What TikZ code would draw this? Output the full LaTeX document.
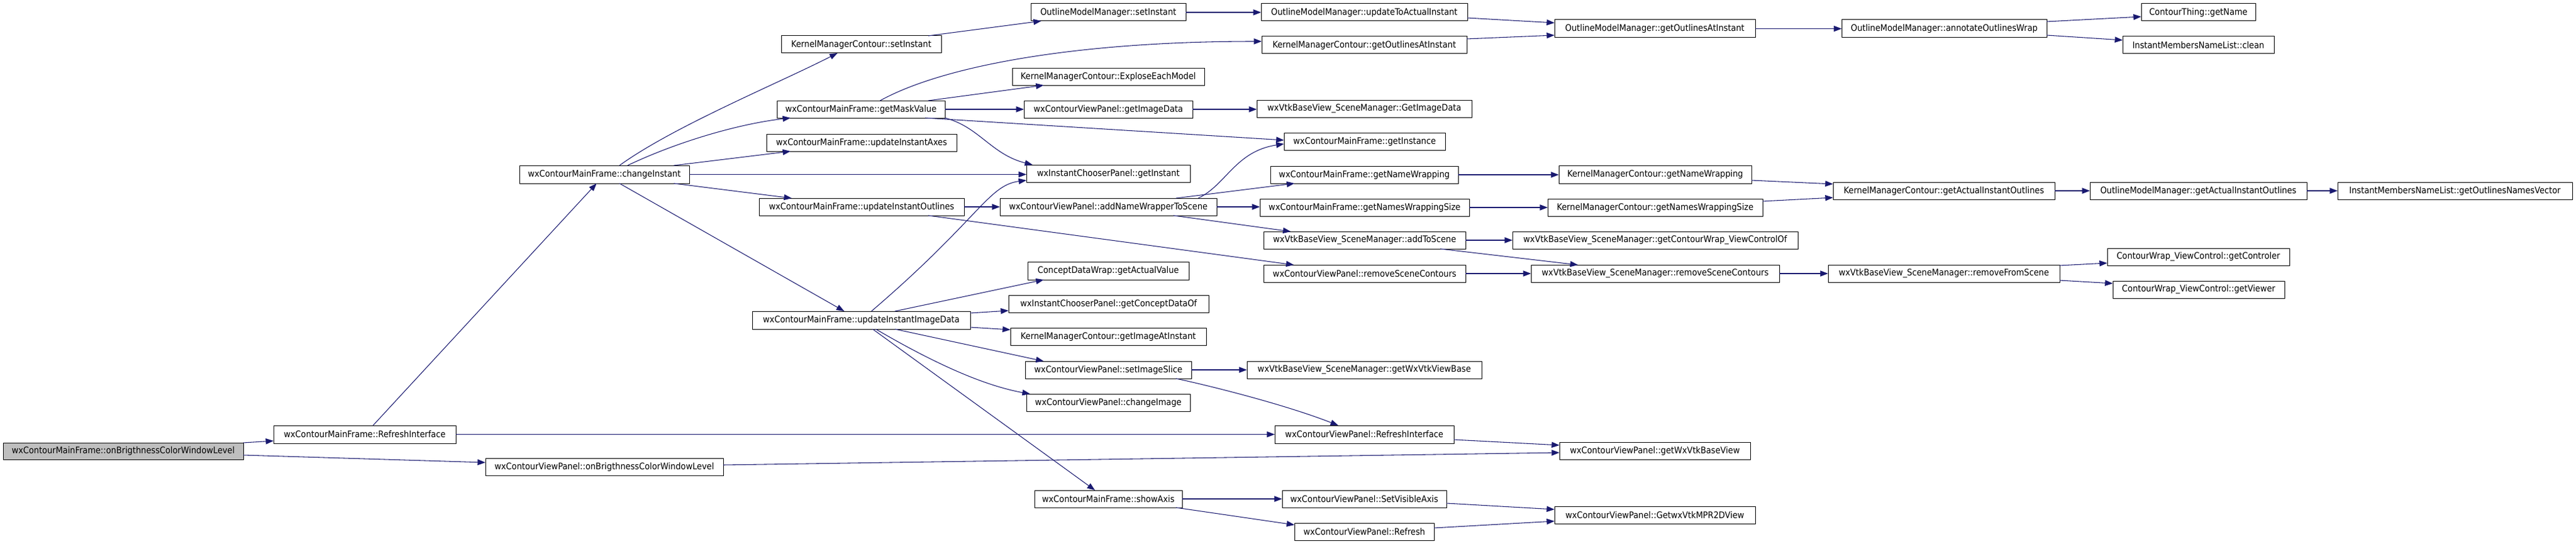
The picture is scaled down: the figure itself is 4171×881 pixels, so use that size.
\documentclass[tikz,border=0pt]{standalone}
\usepackage{fontspec}
\setmainfont{DejaVu Sans}[FakeStretch=0.9]
\usetikzlibrary{arrows.meta}
\definecolor{edgec}{HTML}{191970}
\definecolor{rootfill}{HTML}{BFBFBF}
\tikzset{
 box/.style={draw=black, line width=0.75pt, fill=white, inner sep=0pt, outer sep=0pt, rectangle, font=\fontsize{11}{13}\selectfont},
 link/.style={draw=edgec, line width=0.8pt, -{Triangle[length=9.5pt,width=7pt]}},
}
\newcommand\bx[7][]{\node[box,#1,minimum width={(#4-#3)*0.75pt},minimum height={(#6-#5)*0.75pt}] (#2) at ({(#3+#4)/2},{(#5+#6)/2}) {#7};}
\begin{document}
\begin{tikzpicture}[x=0.75pt,y=-0.75pt]
\useasboundingbox[fill=white] (0,0) rectangle (4171,881);
\bx[fill=rootfill]{root}{5}{394}{717}{744}{wxContourMainFrame::onBrigthnessColorWindowLevel}
\bx{mfri}{443}{738}{689}{718}{wxContourMainFrame::RefreshInterface}
\bx{vponb}{786}{1171}{742}{770}{wxContourViewPanel::onBrigthnessColorWindowLevel}
\bx{chg}{841}{1116}{268}{297}{wxContourMainFrame::changeInstant}
\bx{kmcset}{1265}{1524}{58}{86}{KernelManagerContour::setInstant}
\bx{mask}{1258}{1530}{163}{191}{wxContourMainFrame::getMaskValue}
\bx{axes}{1241}{1549}{217}{245}{wxContourMainFrame::updateInstantAxes}
\bx{outl}{1229}{1561}{321}{349}{wxContourMainFrame::updateInstantOutlines}
\bx{imgd}{1218}{1571}{504}{533}{wxContourMainFrame::updateInstantImageData}
\bx{ommset}{1669}{1920}{6}{34}{OutlineModelManager::setInstant}
\bx{explose}{1639}{1950}{110}{138}{KernelManagerContour::ExploseEachModel}
\bx{vpimg}{1658}{1931}{163}{191}{wxContourViewPanel::getImageData}
\bx{getinst}{1662}{1927}{267}{295}{wxInstantChooserPanel::getInstant}
\bx{addnw}{1619}{1970}{321}{349}{wxContourViewPanel::addNameWrapperToScene}
\bx{cdw}{1664}{1925}{424}{453}{ConceptDataWrap::getActualValue}
\bx{cdo}{1633}{1957}{478}{506}{wxInstantChooserPanel::getConceptDataOf}
\bx{kmcimg}{1636}{1953}{531}{559}{KernelManagerContour::getImageAtInstant}
\bx{slice}{1660}{1929}{585}{613}{wxContourViewPanel::setImageSlice}
\bx{chimg}{1662}{1927}{638}{666}{wxContourViewPanel::changeImage}
\bx{axis}{1675}{1914}{794}{822}{wxContourMainFrame::showAxis}
\bx{upd}{2042}{2376}{6}{34}{OutlineModelManager::updateToActualInstant}
\bx{kmcout}{2043}{2375}{59}{87}{KernelManagerContour::getOutlinesAtInstant}
\bx{smimg}{2035}{2383}{162}{190}{wxVtkBaseView\_SceneManager::GetImageData}
\bx{getinstc}{2079}{2340}{215}{243}{wxContourMainFrame::getInstance}
\bx{mfnw}{2057}{2361}{269}{297}{wxContourMainFrame::getNameWrapping}
\bx{mfnws}{2040}{2379}{322}{350}{wxContourMainFrame::getNamesWrappingSize}
\bx{addsc}{2046}{2373}{375}{403}{wxVtkBaseView\_SceneManager::addToScene}
\bx{vprsc}{2046}{2373}{429}{457}{wxContourViewPanel::removeSceneContours}
\bx{vtkvb}{2019}{2399}{585}{613}{wxVtkBaseView\_SceneManager::getWxVtkViewBase}
\bx{vpri}{2064}{2354}{689}{718}{wxContourViewPanel::RefreshInterface}
\bx{vis}{2076}{2342}{794}{822}{wxContourViewPanel::SetVisibleAxis}
\bx{refr}{2096}{2322}{847}{875}{wxContourViewPanel::Refresh}
\bx{ommout}{2517}{2842}{32}{61}{OutlineModelManager::getOutlinesAtInstant}
\bx{kmcnw}{2524}{2836}{268}{297}{KernelManagerContour::getNameWrapping}
\bx{kmcnws}{2506}{2854}{322}{350}{KernelManagerContour::getNamesWrappingSize}
\bx{cwvc}{2449}{2911}{375}{403}{wxVtkBaseView\_SceneManager::getContourWrap\_ViewControlOf}
\bx{smrsc}{2479}{2881}{429}{457}{wxVtkBaseView\_SceneManager::removeSceneContours}
\bx{vbv}{2525}{2834}{716}{744}{wxContourViewPanel::getWxVtkBaseView}
\bx{mpr}{2517}{2842}{820}{848}{wxContourViewPanel::GetwxVtkMPR2DView}
\bx{annot}{2982}{3314}{32}{61}{OutlineModelManager::annotateOutlinesWrap}
\bx{kmcact}{2968}{3327}{295}{323}{KernelManagerContour::getActualInstantOutlines}
\bx{rfs}{2960}{3335}{429}{457}{wxVtkBaseView\_SceneManager::removeFromScene}
\bx{ctn}{3467}{3652}{6}{34}{ContourThing::getName}
\bx{clean}{3437}{3682}{59}{87}{InstantMembersNameList::clean}
\bx{ommact}{3384}{3735}{295}{323}{OutlineModelManager::getActualInstantOutlines}
\bx{onv}{3785}{4165}{295}{323}{InstantMembersNameList::getOutlinesNamesVector}
\bx{ctrl}{3412}{3707}{402}{430}{ContourWrap\_ViewControl::getControler}
\bx{view}{3421}{3699}{455}{483}{ContourWrap\_ViewControl::getViewer}

\draw[link] (root.north east) -- ([shift={(0,25)}]mfri.north west);
\draw[link] ([shift={(0,20)}]root.north east) -- ([shift={(0,7)}]vponb.north west);
\draw[link] ([shift={(161,0)}]mfri.north west) -- ([shift={(125,0)}]chg.south west);
\draw[link] (mfri.east) -- (mfri.east -| vpri.west);
\draw[link] ([shift={(0,11)}]vponb.north east) -- ([shift={(0,17)}]vbv.north west);
\draw[link] ([shift={(0,23)}]vpri.north east) -- ([shift={(0,5)}]vbv.north west);
\draw[link] ([shift={(162,0)}]chg.north west) .. controls (1090,205) and (1260,135) .. ([shift={(91,0)}]kmcset.south west);
\draw[link] ([shift={(175,0)}]chg.north west) .. controls (1100,228) and (1200,200) .. ([shift={(22,0)}]mask.south west);
\draw[link] ([shift={(250,0)}]chg.north west) -- ([shift={(39,0)}]axes.south west);
\draw[link] (chg.east) -- (chg.east -| getinst.west);
\draw[link] ([shift={(250,0)}]chg.south west) -- ([shift={(53,0)}]outl.north west);
\draw[link] ([shift={(162,0)}]chg.south west) -- ([shift={(149,0)}]imgd.north west);
\draw[link] ([shift={(238,0)}]kmcset.north west) -- ([shift={(17,0)}]ommset.south west);
\draw[link] ([shift={(167,0)}]mask.north west) .. controls (1530,105) and (1750,67) .. ([shift={(0,8)}]kmcout.north west);
\draw[link] ([shift={(245,0)}]mask.north west) -- ([shift={(51,0)}]explose.south west);
\draw[link] (mask.east) -- (vpimg.west);
\draw[link] ([shift={(240,0)}]mask.south west) -- ([shift={(0,12)}]getinstc.north west);
\draw[link] (mask.south east) .. controls (1585,205) and (1605,250) .. ([shift={(10,0)}]getinst.north west);
\draw[link] (outl.east) -- (addnw.west);
\draw[link] ([shift={(274,0)}]outl.south west) -- ([shift={(49,0)}]vprsc.north west);
\draw[link] ([shift={(321,0)}]addnw.north west) .. controls (1985,300) and (2000,245) .. ([shift={(0,18)}]getinstc.north west);
\draw[link] ([shift={(285,0)}]addnw.north west) -- ([shift={(39,0)}]mfnw.south west);
\draw[link] (addnw.east) -- (addnw.east -| mfnws.west);
\draw[link] ([shift={(281,0)}]addnw.south west) -- ([shift={(44,0)}]addsc.north west);
\draw[link] ([shift={(193,0)}]imgd.north west) .. controls (1585,355) and (1600,300) .. ([shift={(0,-3)}]getinst.south west);
\draw[link] ([shift={(231,0)}]imgd.north west) -- ([shift={(26,0)}]cdw.south west);
\draw[link] ([shift={(0,3)}]imgd.north east) -- ([shift={(0,-3)}]cdo.south west);
\draw[link] ([shift={(0,-3)}]imgd.south east) -- ([shift={(0,3)}]kmcimg.north west);
\draw[link] ([shift={(231,0)}]imgd.south west) -- ([shift={(30,0)}]slice.north west);
\draw[link] ([shift={(200,0)}]imgd.south west) .. controls (1490,575) and (1580,622) .. ([shift={(6,0)}]chimg.north west);
\draw[link] ([shift={(195,0)}]imgd.south west) -- ([shift={(98,0)}]axis.north west);
\draw[link] (slice.east) -- (vtkvb.west);
\draw[link] ([shift={(244,0)}]slice.south west) .. controls (1960,625) and (2080,655) .. ([shift={(103,0)}]vpri.north west);
\draw[link] (axis.east) -- (vis.west);
\draw[link] ([shift={(229,0)}]axis.south west) -- ([shift={(0,3)}]refr.north west);
\draw[link] ([shift={(0,-7)}]vis.south east) -- ([shift={(0,5)}]mpr.north west);
\draw[link] ([shift={(0,8)}]refr.north east) -- ([shift={(0,-4)}]mpr.south west);
\draw[link] (ommset.east) -- (upd.west);
\draw[link] ([shift={(0,-5)}]upd.south east) -- ([shift={(0,5)}]ommout.north west);
\draw[link] ([shift={(0,4)}]kmcout.north east) -- ([shift={(0,-4)}]ommout.south west);
\draw[link] (ommout.east) -- (annot.west);
\draw[link] ([shift={(0,3)}]annot.north east) -- ([shift={(0,-7)}]ctn.south west);
\draw[link] ([shift={(0,-4)}]annot.south east) -- ([shift={(0,6)}]clean.north west);
\draw[link] (vpimg.east) -- (vpimg.east -| smimg.west);
\draw[link] (mfnw.east) -- (mfnw.east -| kmcnw.west);
\draw[link] (mfnws.east) -- (mfnws.east -| kmcnws.west);
\draw[link] ([shift={(0,-5)}]kmcnw.south east) -- ([shift={(0,3)}]kmcact.north west);
\draw[link] ([shift={(0,4)}]kmcnws.north east) -- ([shift={(0,-3)}]kmcact.south west);
\draw[link] (kmcact.east) -- (ommact.west);
\draw[link] (ommact.east) -- (onv.west);
\draw[link] (addsc.east) -- (cwvc.west);
\draw[link] ([shift={(286,0)}]addsc.south west) -- ([shift={(76,0)}]smrsc.north west);
\draw[link] (vprsc.east) -- (smrsc.west);
\draw[link] (smrsc.east) -- (rfs.west);
\draw[link] ([shift={(0,1)}]rfs.north east) -- ([shift={(0,-4)}]ctrl.south west);
\draw[link] ([shift={(0,-3)}]rfs.south east) -- ([shift={(0,4)}]view.north west);
\end{tikzpicture}
\end{document}
